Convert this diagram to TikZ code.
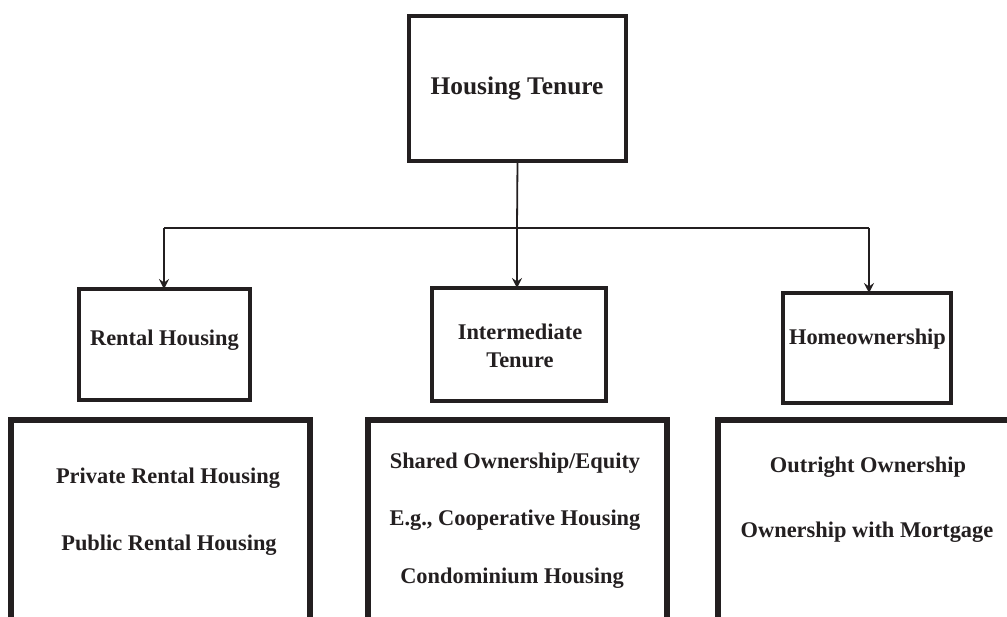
\documentclass[tikz,border=0pt]{standalone}
\usepackage{fontspec}
\setmainfont{Liberation Serif}
\usetikzlibrary{arrows.meta}
\definecolor{ink}{RGB}{35,31,32}
\tikzset{
  frame/.style={draw=ink, rectangle, inner sep=0pt, outer sep=0pt},
  topbox/.style={frame, line width=4pt},
  midbox/.style={frame, line width=3.5pt},
  listbox/.style={draw=ink, line width=6pt, line join=miter},
  lbl/.style={anchor=base, inner sep=0pt, text=ink, font=\bfseries\fontsize{22.4}{26}\selectfont},
  biglbl/.style={lbl, font=\bfseries\fontsize{25.4}{30}\selectfont},
  conn/.style={draw=ink, line width=1.8pt},
  tip/.style={-{Stealth[length=10pt,width=10pt,inset=3.5pt]}}
}
\begin{document}
\begin{tikzpicture}[x=1pt, y=-1pt]
\useasboundingbox (0,0) rectangle (1007,617);
\clip (0,0) rectangle (1007,617);

% top level
\node[topbox, minimum width=217pt, minimum height=145pt] (top) at (517.5,88.5) {};
\node[biglbl] (toplbl) at (517,95) {Housing Tenure};

% three tenure categories
\node[midbox, minimum width=171pt, minimum height=111pt] (rent) at (164.5,344.5) {};
\node[lbl] (rentlbl) at (164.5,346) {Rental Housing};

\node[midbox, minimum width=174pt, minimum height=113pt] (mid) at (519,344.5) {};
\node[lbl] (midlbl1) at (520,340) {Intermediate};
\node[lbl] (midlbl2) at (520,368) {Tenure};

\node[midbox, minimum width=168pt, minimum height=110pt] (home) at (867,348) {};
\node[lbl] (homelbl) at (867.5,345) {Homeownership};

% detail boxes (open at the lower edge of the page)
\path[listbox] (11,619.5) -- (11,420) -- (310,420) -- (310,619.5) -- cycle;
\node[lbl] (r1) at (168,483) {Private Rental Housing};
\node[lbl] (r2) at (169,550) {Public Rental Housing};

\path[listbox] (368,619.5) -- (368,420) -- (667,420) -- (667,619.5) -- cycle;
\node[lbl] (m1) at (515,468) {Shared Ownership/Equity};
\node[lbl] (m2) at (515,525) {E.g., Cooperative Housing};
\node[lbl] (m3) at (512,583) {Condominium Housing};

\path[listbox] (718,619.5) -- (718,420) -- (1014,420) -- (1014,619.5) -- cycle;
\node[lbl] (h1) at (868,472) {Outright Ownership};
\node[lbl] (h2) at (867,537) {Ownership with Mortgage};

% connectors
\coordinate (bus) at (517,228);
\coordinate (busL) at (164,228);
\coordinate (busR) at (869,228);
\draw[conn] (top.south) -- (bus);
\draw[conn] (busL) -- (busR);
\draw[conn, tip] (busL) -- (busL |- rent.north);
\draw[conn, tip] (bus) -- (bus |- mid.north);
\draw[conn, tip] (busR) -- (busR |- home.north);
\end{tikzpicture}
\end{document}
